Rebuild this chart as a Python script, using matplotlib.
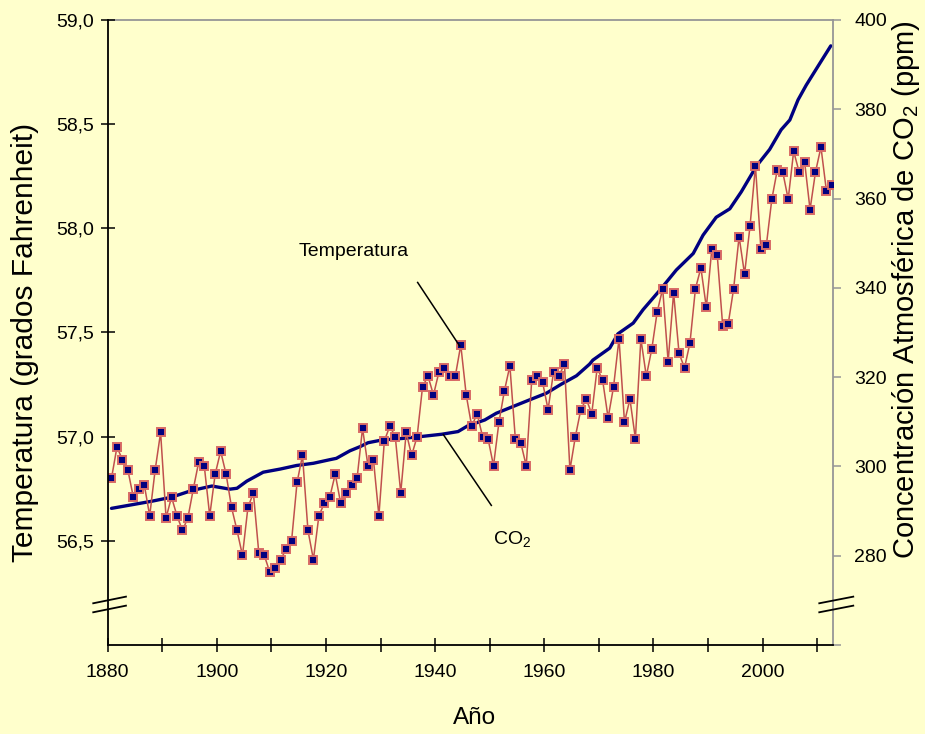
import matplotlib.pyplot as plt
import numpy as np

plt.rcParams['font.family'] = ['Liberation Sans', 'DejaVu Sans']
plt.rcParams['mathtext.default'] = 'regular'

# temperatura media global anual (grados F), 1880-2012
years = list(range(1880, 2013))
temp_f = [
    56.80, 56.95, 56.89, 56.84, 56.71, 56.75, 56.77, 56.62, 56.84, 57.02,
    56.61, 56.71, 56.62, 56.55, 56.61, 56.75, 56.88, 56.86, 56.62, 56.82,
    56.93, 56.82, 56.66, 56.55, 56.43, 56.66, 56.73, 56.44, 56.43, 56.35,
    56.37, 56.41, 56.46, 56.50, 56.78, 56.91, 56.55, 56.41, 56.62, 56.68,
    56.71, 56.82, 56.68, 56.73, 56.77, 56.80, 57.04, 56.86, 56.89, 56.62,
    56.98, 57.05, 57.00, 56.73, 57.02, 56.91, 57.00, 57.24, 57.29, 57.20,
    57.31, 57.33, 57.29, 57.29, 57.44, 57.20, 57.05, 57.11, 57.00, 56.99,
    56.86, 57.07, 57.22, 57.34, 56.99, 56.97, 56.86, 57.27, 57.29, 57.26,
    57.13, 57.31, 57.29, 57.35, 56.84, 57.00, 57.13, 57.18, 57.11, 57.33,
    57.27, 57.09, 57.24, 57.47, 57.07, 57.18, 56.99, 57.47, 57.29, 57.42,
    57.60, 57.71, 57.36, 57.69, 57.40, 57.33, 57.45, 57.71, 57.81, 57.62,
    57.90, 57.87, 57.53, 57.54, 57.71, 57.96, 57.78, 58.01, 58.30, 57.90,
    57.92, 58.14, 58.28, 58.27, 58.14, 58.37, 58.27, 58.32, 58.09, 58.27,
    58.39, 58.18, 58.21,
]

# CO2 atmosferico (ppm)
co2_years = [1880.0, 1883.7, 1887.4, 1891.0, 1894.7, 1898.4, 1901.7, 1903.0,
             1904.8, 1907.8, 1910.9, 1913.9, 1917.0, 1920.0, 1921.2, 1923.7,
             1925.5, 1927.0, 1929.5, 1933.7, 1936.8, 1940.5, 1943.5, 1945.3,
             1948.4, 1950.5, 1956.6, 1959.7, 1962.4, 1965.2, 1967.6, 1968.2,
             1971.3, 1972.8, 1975.6, 1977.4, 1980.5, 1983.5, 1986.6, 1988.4,
             1990.8, 1993.3, 1995.4, 1998.2, 2000.6, 2002.7, 2004.3, 2005.8,
             2007.3, 2009.8, 2011.8]
co2_ppm = [290.6, 291.4, 292.2, 293.1, 294.6, 295.6, 294.9, 295.1,
           296.7, 298.7, 299.4, 300.2, 300.7, 301.5, 301.8, 303.5,
           304.4, 305.3, 305.9, 306.3, 306.7, 307.2, 307.8, 309.1,
           310.4, 311.9, 314.9, 316.4, 318.4, 320.3, 322.9, 323.8,
           326.5, 329.7, 332.1, 335.1, 339.5, 344.0, 347.7, 351.8,
           355.8, 357.7, 361.5, 367.3, 371.0, 375.4, 377.6, 382.1,
           385.4, 390.3, 394.2]

x_ticks = list(range(1880, 2011, 10))
x_labels = [str(y) if y % 20 == 0 else '' for y in x_ticks]
temp_ticks = [56.5, 57.0, 57.5, 58.0, 58.5, 59.0]
temp_labels = ['56,5', '57,0', '57,5', '58,0', '58,5', '59,0']
co2_ticks = list(range(260, 401, 20))
co2_labels = [''] + [str(v) for v in co2_ticks[1:]]

bg = '#FFFFCC'
red = '#C0504D'
navy = '#000080'
gray = '#969696'
shift = 0.7  # los puntos caen dentro de cada año

fig = plt.figure(figsize=(9.25, 7.34), dpi=100, facecolor=bg)
ax = fig.add_axes([0.1164, 0.1213, 0.7838, 0.8515])
ax2 = ax.twinx()
ax.set_zorder(2)
ax2.set_zorder(1)
ax.patch.set_visible(False)
ax2.patch.set_visible(False)

ax2.plot(np.array(co2_years) + shift, co2_ppm, color=navy, lw=2.4,
         solid_capstyle='round')
ax.plot(np.array(years) + shift, temp_f, color=red, lw=1.1, marker='s',
        markersize=5.6, markerfacecolor=navy, markeredgecolor='#D86A66',
        markeredgewidth=1.4)

ax.set_xlim(1880, 2012.85)
ax.set_ylim(56.0, 59.0)
ax2.set_ylim(260, 400)

ax.set_xticks(x_ticks)
ax.set_xticklabels(x_labels)
ax.set_yticks(temp_ticks)
ax.set_yticklabels(temp_labels)
ax2.set_yticks(co2_ticks)
ax2.set_yticklabels(co2_labels)

ax.tick_params(axis='y', direction='inout', length=10, width=1.1,
               labelsize=14, pad=5)
ax.tick_params(axis='x', direction='inout', length=9.5, width=1.1,
               labelsize=14, pad=9)
ax2.tick_params(axis='y', direction='out', length=5.5, width=1.1,
                color=gray, labelsize=14, pad=10)

for s in ['right', 'top']:
    ax.spines[s].set_visible(False)
for s in ['left', 'bottom']:
    ax2.spines[s].set_visible(False)
    ax.spines[s].set_linewidth(1.3)
for s in ['right', 'top']:
    ax2.spines[s].set_color(gray)
    ax2.spines[s].set_linewidth(1.3)

# marcas de corte en ambos ejes
for x0, x1 in [(-0.0199, 0.0252), (0.9815, 1.0284)]:
    ax.plot([x0, x1], [0.0667, 0.0773], color='black', lw=1.3,
            transform=ax.transAxes, clip_on=False)
    ax.plot([x0, x1], [0.0523, 0.0629], color='black', lw=1.3,
            transform=ax.transAxes, clip_on=False)

# etiquetas de las series
ax.text(1925.0, 57.89, 'Temperatura', fontsize=14, ha='center', va='center')
ax.plot([1936.8, 1944.5], [57.74, 57.435], color='black', lw=1.1)
ax.text(1954.2, 56.51, 'CO$_2$', fontsize=14, ha='center', va='center')
ax.plot([1941.5, 1950.3], [57.01, 56.67], color='black', lw=1.1)

fig.text(0.027, 0.534, 'Temperatura (grados Fahrenheit)', rotation=90,
         fontsize=21.5, ha='center', va='center')
fig.text(0.979, 0.605, 'Concentración Atmosférica de CO$_2$ (ppm)',
         rotation=90, fontsize=21, ha='center', va='center')
fig.text(0.513, 0.022, 'Año', fontsize=17.5, ha='center', va='center')

fig.savefig('out.png', dpi=100, facecolor=bg)
